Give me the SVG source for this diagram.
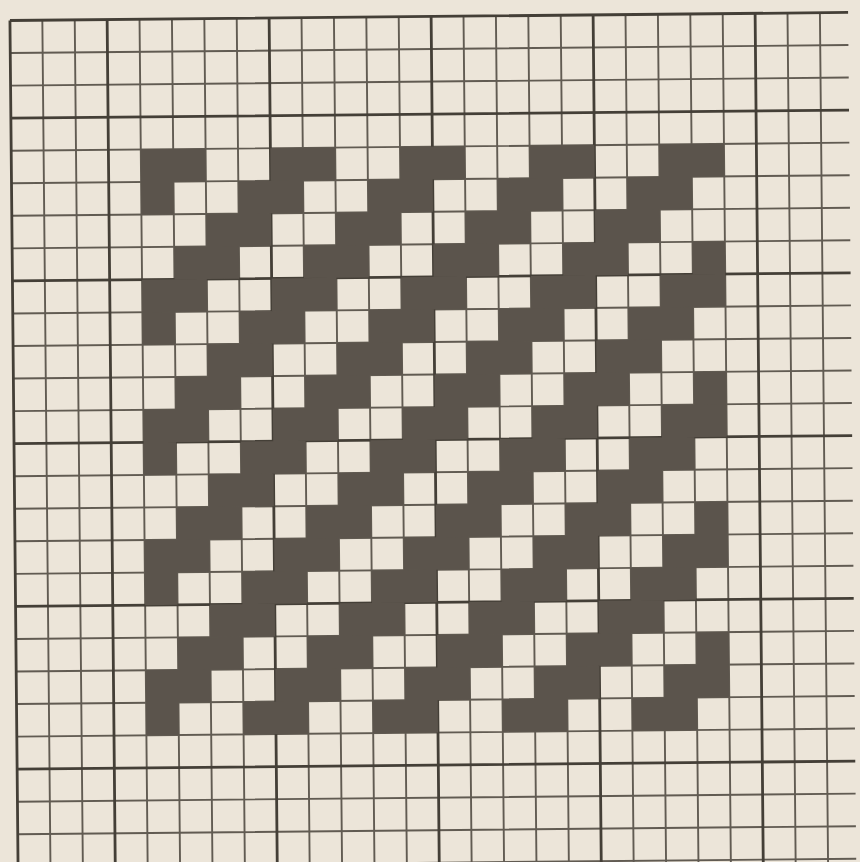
<svg xmlns="http://www.w3.org/2000/svg" width="860" height="862" viewBox="0 0 860 862">
  <style>
    .thin { fill: none; stroke: #615b52; stroke-width: 1.9; vector-effect: non-scaling-stroke; }
    .thick { fill: none; stroke: #443f37; stroke-width: 2.8; vector-effect: non-scaling-stroke; }
    .weave { fill: #5b544c; stroke: none; }
  </style>
  <rect id="paper" x="0" y="0" width="860" height="862" fill="#ece5d9"/>
  <g id="sheet" transform="rotate(-0.55 430 431) translate(13.9 16.5) scale(32.4 32.55)">
    <g id="grid">
      <path class="thin" d="M1 0V27M2 0V27M4 0V27M5 0V27M6 0V27M7 0V27M9 0V27M10 0V27M11 0V27M12 0V27M14 0V27M15 0V27M16 0V27M17 0V27M19 0V27M20 0V27M21 0V27M22 0V27M24 0V27M25 0V27"/>
      <path class="thin" d="M0 1H25.87M0 2H25.87M0 4H25.87M0 5H25.87M0 6H25.87M0 7H25.87M0 9H25.87M0 10H25.87M0 11H25.87M0 12H25.87M0 14H25.87M0 15H25.87M0 16H25.87M0 17H25.87M0 19H25.87M0 20H25.87M0 21H25.87M0 22H25.87M0 24H25.87M0 25H25.87M0 26H25.87"/>
      <path class="thick" d="M0 0V27M3 0V27M8 0V27M13 0V27M18 0V27M23 0V27"/>
      <path class="thick" d="M0 0H25.87M0 3H25.87M0 8H25.87M0 13H25.87M0 18H25.87M0 23H25.87"/>
    </g>
    <g id="twill">
      <path class="weave" d="
M4 4h2v1h-2zM8 4h2v1h-2zM12 4h2v1h-2zM16 4h2v1h-2zM20 4h2v1h-2z
M4 5h1v1h-1zM7 5h2v1h-2zM11 5h2v1h-2zM15 5h2v1h-2zM19 5h2v1h-2z
M6 6h2v1h-2zM10 6h2v1h-2zM14 6h2v1h-2zM18 6h2v1h-2z
M5 7h2v1h-2zM9 7h2v1h-2zM13 7h2v1h-2zM17 7h2v1h-2zM21 7h1v1h-1z
M4 8h2v1h-2zM8 8h2v1h-2zM12 8h2v1h-2zM16 8h2v1h-2zM20 8h2v1h-2z
M4 9h1v1h-1zM7 9h2v1h-2zM11 9h2v1h-2zM15 9h2v1h-2zM19 9h2v1h-2z
M6 10h2v1h-2zM10 10h2v1h-2zM14 10h2v1h-2zM18 10h2v1h-2z
M5 11h2v1h-2zM9 11h2v1h-2zM13 11h2v1h-2zM17 11h2v1h-2zM21 11h1v1h-1z
M4 12h2v1h-2zM8 12h2v1h-2zM12 12h2v1h-2zM16 12h2v1h-2zM20 12h2v1h-2z
M4 13h1v1h-1zM7 13h2v1h-2zM11 13h2v1h-2zM15 13h2v1h-2zM19 13h2v1h-2z
M6 14h2v1h-2zM10 14h2v1h-2zM14 14h2v1h-2zM18 14h2v1h-2z
M5 15h2v1h-2zM9 15h2v1h-2zM13 15h2v1h-2zM17 15h2v1h-2zM21 15h1v1h-1z
M4 16h2v1h-2zM8 16h2v1h-2zM12 16h2v1h-2zM16 16h2v1h-2zM20 16h2v1h-2z
M4 17h1v1h-1zM7 17h2v1h-2zM11 17h2v1h-2zM15 17h2v1h-2zM19 17h2v1h-2z
M6 18h2v1h-2zM10 18h2v1h-2zM14 18h2v1h-2zM18 18h2v1h-2z
M5 19h2v1h-2zM9 19h2v1h-2zM13 19h2v1h-2zM17 19h2v1h-2zM21 19h1v1h-1z
M4 20h2v1h-2zM8 20h2v1h-2zM12 20h2v1h-2zM16 20h2v1h-2zM20 20h2v1h-2z
M4 21h1v1h-1zM7 21h2v1h-2zM11 21h2v1h-2zM15 21h2v1h-2zM19 21h2v1h-2z"/>
    </g>
  </g>
</svg>
